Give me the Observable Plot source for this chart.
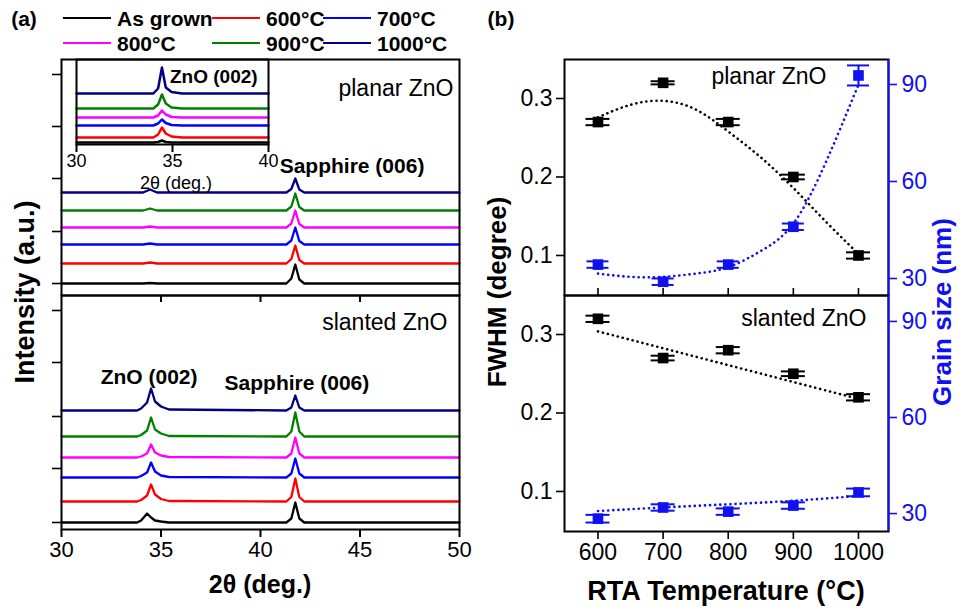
<!DOCTYPE html>
<html><head><meta charset="utf-8">
<script src="https://cdn.jsdelivr.net/npm/d3@7"></script>
<script src="https://cdn.jsdelivr.net/npm/@observablehq/plot@0.6"></script>
<style>
body{margin:0;background:#fff;}
#root{position:relative;width:972px;height:611px;overflow:hidden;font-family:"Liberation Sans",Arial,sans-serif;background:#fff;}
#root svg{position:absolute;left:0;top:0;}
.t{position:absolute;white-space:nowrap;font-weight:bold;color:#000;line-height:1;}
.lg{position:absolute;height:0;border-top:2.5px solid #000;}
</style></head><body><div id="root"></div>
<script>
// ---------- series ----------
const series = ["As grown", "600°C", "700°C", "800°C", "900°C", "1000°C"];
const seriesColors = ["#000000", "#ff0000", "#0000ff", "#ff00ff", "#008000", "#000080"];

// ---------- (a) planar ZnO, 2θ scan (intensity in a.u., stacked) ----------
const planarTheta = [30, 34.1, 34.45, 34.8, 41.3, 41.55, 41.75, 41.95, 42.2, 50];
const planarAsGrown = [12, 12, 12.5, 12, 12, 17, 31, 16, 12, 12];
const planar600 = [32, 32, 33, 32, 32, 36.5, 50, 35.5, 32, 32];
const planar700 = [51, 51, 52, 51, 51, 55, 68, 54.5, 51, 51];
const planar800 = [68, 68, 69, 68, 68, 72, 85, 71.5, 68, 68];
const planar900 = [85, 85, 87, 85, 85, 89, 102, 88.5, 85, 85];
const planar1000 = [103, 103, 106, 103, 103, 106.5, 117, 106, 103, 103];
const planarTicks = [12, 64, 117, 169, 221];

// inset: planar ZnO, 30–40°
const insetTheta = [30, 34.0, 34.25, 34.45, 34.65, 34.95, 35.5, 40];
const insetAsGrown = [2, 2, 2.5, 4, 2.5, 2, 2, 2];
const inset600 = [7, 7, 10, 17, 11, 8, 7, 7];
const inset700 = [19, 19, 21, 25, 21.5, 19.5, 19, 19];
const inset800 = [27, 27, 29, 34, 30, 27.5, 27, 27];
const inset900 = [36, 36, 40, 50, 41, 37, 36, 36];
const inset1000 = [51, 51, 56, 77, 57, 52.5, 51, 51];
const insetTicks = [30, 35, 40];

// ---------- (a) slanted ZnO ----------
const slantedTheta = [30, 33.8, 34.0, 34.3, 34.5, 34.7, 35.0, 35.4, 41.3, 41.55, 41.75, 41.95, 42.2, 50];
const slantedAsGrown = [7, 7, 9, 16, 12, 9, 8, 7, 7, 11, 27, 11, 7, 7];
const slanted600 = [28, 28, 29.5, 34, 45, 35, 30.5, 28.5, 28, 32.5, 51, 32.5, 28, 28];
const slanted700 = [52, 52, 53.5, 57, 67, 58, 54, 52.5, 52, 56, 71, 56, 52, 52];
const slanted800 = [72, 72, 73, 76, 85, 77, 74, 72.5, 72, 76, 92, 76, 72, 72];
const slanted900 = [93, 93, 94.5, 99, 112, 100, 96, 93.5, 93, 98, 117, 98, 93, 93];
const slanted1000 = [119, 119, 121, 127, 141, 128, 123, 120, 119, 122, 134, 122, 119, 119];
const slantedTicks = [7, 61, 113, 167, 219];
const thetaTicks = [30, 35, 40, 45, 50];

// ---------- (b) FWHM and grain size vs RTA temperature ----------
const temps = [600, 700, 800, 900, 1000];
const fwhmPlanar = [0.27, 0.32, 0.27, 0.20, 0.10];
const fwhmPlanarErr = [0.004, 0.002, 0.004, 0.003, 0.004];
const grainPlanar = [34.3, 29, 34.3, 46, 92.8];
const grainPlanarErr = [1, 1, 1, 1, 3.1];
const fwhmSlanted = [0.32, 0.27, 0.28, 0.25, 0.22];
const fwhmSlantedErr = [0.004, 0.003, 0.004, 0.003, 0.004];
const grainSlanted = [28.4, 31.9, 30.6, 32.5, 36.6];
const grainSlantedErr = [1.2, 1, 1, 1, 1.2];
// dotted fit curves
const fitTemps = [600, 650, 700, 750, 800, 850, 900, 950, 1000];
const fwhmPlanarFit = [0.276, 0.292, 0.297, 0.286, 0.258, 0.225, 0.186, 0.143, 0.102];
const grainPlanarFit = [31.5, 30.5, 30.5, 31.5, 33.5, 38.5, 47, 66, 90];
const fitTempsS = [600, 1000];
const fwhmSlantedFit = [0.304, 0.218];
const grainSlantedFitT = [600, 700, 800, 900, 1000];
const grainSlantedFit = [30.8, 31.9, 32.9, 34, 35.5];
const fwhmTicks = [0.1, 0.2, 0.3];
const grainTicks = [30, 60, 90];

// ---------- helpers ----------
const root = document.getElementById("root");
const FONT = "'Liberation Sans', Arial, sans-serif";
function addPlot(o) {
  const el = Plot.plot({
    width: 972, height: 611, ...o,
    style: {background: "transparent", fontFamily: FONT, fontSize: "22px", overflow: "visible", position: "absolute", left: "0px", top: "0px"}
  });
  root.appendChild(el);
}
function addText(txt, x, y, size, opts = {}) {
  const d = document.createElement("div");
  d.className = "t";
  d.textContent = txt;
  d.style.fontSize = size + "px";
  d.style.left = x + "px";
  d.style.top = y + "px";
  d.style.transform = "translate(-50%,-50%)" + (opts.rot ? " rotate(" + opts.rot + "deg)" : "");
  if (opts.color) d.style.color = opts.color;
  if (opts.weight) d.style.fontWeight = opts.weight;
  root.appendChild(d);
}
const traceLines = (theta, sets, sw) => sets.map((vals, k) =>
  Plot.line(theta, {x: d => d, y: (d, i) => vals[i], stroke: seriesColors[k], strokeWidth: sw}));
const noText = () => "";
const plain = d => String(d);

// ---------- (a) upper: planar ----------
addPlot({
  marginTop: 59, marginBottom: 316, marginLeft: 61, marginRight: 513,
  x: {domain: [30, 50]}, y: {domain: [0, 236]},
  marks: [
    ...traceLines(planarTheta, [planarAsGrown, planar600, planar700, planar800, planar900, planar1000], 2.3),
    Plot.axisY({ticks: planarTicks, tickSize: 9, tickFormat: noText, label: null, strokeWidth: 1.6}),
    Plot.axisX({ticks: [35, 40, 45], tickSize: 7, tickFormat: noText, label: null, strokeWidth: 2}),
    Plot.frame({strokeWidth: 2}),
    Plot.text(["Sapphire (006)"], {x: 44.6, y: 129, text: d => d, fontSize: 21, fontWeight: "bold", lineAnchor: "middle"}),
    Plot.text(["planar ZnO"], {frameAnchor: "top-right", dx: -6, dy: 29, text: d => d, fontSize: 23, textAnchor: "end", lineAnchor: "middle"})
  ]
});

// ---------- (a) inset ----------
addPlot({
  marginTop: 59, marginBottom: 467, marginLeft: 76, marginRight: 704,
  x: {domain: [30, 40]}, y: {domain: [0, 85], axis: null},
  marks: [
    ...traceLines(insetTheta, [insetAsGrown, inset600, inset700, inset800, inset900, inset1000], 2.5),
    Plot.axisX({ticks: insetTicks, tickSize: 8, tickPadding: 2, label: null, fontSize: 18, strokeWidth: 2}),
    Plot.frame({strokeWidth: 2}),
    Plot.text(["ZnO (002)"], {x: 37.15, y: 68, text: d => d, fontSize: 19, fontWeight: "bold", lineAnchor: "middle"})
  ]
});

// ---------- (a) lower: slanted ----------
addPlot({
  marginTop: 295, marginBottom: 82, marginLeft: 61, marginRight: 513,
  x: {domain: [30, 50]}, y: {domain: [0, 234]},
  marks: [
    ...traceLines(slantedTheta, [slantedAsGrown, slanted600, slanted700, slanted800, slanted900, slanted1000], 2.3),
    Plot.axisY({ticks: slantedTicks, tickSize: 9, tickFormat: noText, label: null, strokeWidth: 1.6}),
    Plot.axisX({ticks: thetaTicks, tickSize: 8, tickPadding: 4, label: null, fontSize: 22, strokeWidth: 2}),
    Plot.frame({strokeWidth: 2}),
    Plot.text(["ZnO (002)"], {x: 34.4, y: 152, text: d => d, fontSize: 21, fontWeight: "bold", lineAnchor: "middle"}),
    Plot.text(["Sapphire (006)"], {x: 41.83, y: 146, text: d => d, fontSize: 21, fontWeight: "bold", lineAnchor: "middle"}),
    Plot.text(["slanted ZnO"], {frameAnchor: "top-right", dx: -12, dy: 27, text: d => d, fontSize: 23, textAnchor: "end", lineAnchor: "middle"})
  ]
});

// ---------- (b) ----------
const xDomB = [548.6, 1046.1];
const pts = (vals, errs) => temps.map((t, i) => ({t, v: vals[i], e: errs[i]}));
const fitPts = (ts, vals) => ts.map((t, i) => ({t, v: vals[i]}));
const DOT = {strokeDasharray: "0.1,5", strokeLinecap: "round", strokeWidth: 2.6, curve: "natural"};
function errMarks(data, color, cap) {
  return [
    Plot.ruleX(data, {x: "t", y1: d => d.v - d.e, y2: d => d.v + d.e, stroke: color, strokeWidth: 2}),
    Plot.ruleY(data, {x1: "t", x2: "t", y: d => d.v + d.e, insetLeft: -cap, insetRight: -cap, stroke: color, strokeWidth: 2}),
    Plot.ruleY(data, {x1: "t", x2: "t", y: d => d.v - d.e, insetLeft: -cap, insetRight: -cap, stroke: color, strokeWidth: 2}),
    Plot.dot(data, {x: "t", y: "v", symbol: "square", r: 6, fill: color, stroke: null})
  ];
}
const BLUE = "#1010f0";

// upper FWHM (planar)
addPlot({
  marginTop: 59, marginBottom: 316, marginLeft: 564, marginRight: 84,
  x: {domain: xDomB, axis: null}, y: {domain: [0.049, 0.3497]},
  marks: [
    Plot.line(fitPts(fitTemps, fwhmPlanarFit), {x: "t", y: "v", stroke: "#000", ...DOT}),
    ...errMarks(pts(fwhmPlanar, fwhmPlanarErr), "#000", 12),
    Plot.axisY({ticks: fwhmTicks, tickSize: 8, tickPadding: 4, tickFormat: d3.format(".1f"), label: null, fontSize: 23, strokeWidth: 1.6}),
    Plot.frame({strokeWidth: 2}),
    Plot.text(["planar ZnO"], {frameAnchor: "top-right", dx: -62, dy: 17, text: d => d, fontSize: 23, textAnchor: "end", lineAnchor: "middle"})
  ]
});
// upper grain (planar)
addPlot({
  marginTop: 59, marginBottom: 316, marginLeft: 564, marginRight: 84,
  x: {domain: xDomB, axis: null}, y: {domain: [24.74, 97.73]},
  marks: [
    Plot.line(fitPts(fitTemps, grainPlanarFit), {x: "t", y: "v", stroke: BLUE, ...DOT}),
    ...errMarks(pts(grainPlanar, grainPlanarErr), BLUE, 11),
    Plot.ruleX([xDomB[1]], {stroke: BLUE, strokeWidth: 2}),
    Plot.axisY({anchor: "right", ticks: grainTicks, tickSize: 8, tickPadding: 5, label: null, fontSize: 23, color: BLUE, strokeWidth: 1.6})
  ]
});
// lower FWHM (slanted)
addPlot({
  marginTop: 295, marginBottom: 80, marginLeft: 564, marginRight: 84,
  x: {domain: xDomB}, y: {domain: [0.049, 0.3497]},
  marks: [
    Plot.line(fitPts(fitTempsS, fwhmSlantedFit), {x: "t", y: "v", stroke: "#000", ...DOT, curve: "linear"}),
    ...errMarks(pts(fwhmSlanted, fwhmSlantedErr), "#000", 12),
    Plot.axisY({ticks: fwhmTicks, tickSize: 8, tickPadding: 4, tickFormat: d3.format(".1f"), label: null, fontSize: 23, strokeWidth: 1.6}),
    Plot.axisX({ticks: temps, tickSize: 8, tickPadding: 4, tickFormat: plain, label: null, fontSize: 23, strokeWidth: 1.6}),
    Plot.axisX({anchor: "top", ticks: temps, tickSize: 8, tickFormat: noText, label: null, strokeWidth: 1.6}),
    Plot.frame({strokeWidth: 2}),
    Plot.text(["slanted ZnO"], {frameAnchor: "top-right", dx: -22, dy: 23, text: d => d, fontSize: 23, textAnchor: "end", lineAnchor: "middle"})
  ]
});
// lower grain (slanted)
addPlot({
  marginTop: 295, marginBottom: 80, marginLeft: 564, marginRight: 84,
  x: {domain: xDomB, axis: null}, y: {domain: [24.4, 98.1]},
  marks: [
    Plot.line(fitPts(grainSlantedFitT, grainSlantedFit), {x: "t", y: "v", stroke: BLUE, ...DOT}),
    ...errMarks(pts(grainSlanted, grainSlantedErr), BLUE, 12),
    Plot.ruleX([xDomB[1]], {stroke: BLUE, strokeWidth: 2}),
    Plot.axisY({anchor: "right", ticks: grainTicks, tickSize: 8, tickPadding: 5, label: null, fontSize: 23, color: BLUE, strokeWidth: 1.6})
  ]
});

// ---------- titles, axis labels, legend ----------
addText("(a)", 24, 18, 21);
addText("(b)", 501, 18, 21);
addText("Intensity (a.u.)", 25, 292, 27, {rot: -90});
addText("2θ (deg.)", 260, 584, 25);
addText("2θ (deg.)", 176, 183, 18, {weight: "normal"});
addText("FWHM (degree)", 497, 292, 26, {rot: -90});
addText("Grain size (nm)", 942, 312, 26, {rot: -90, color: BLUE});
addText("RTA Temperature (°C)", 726, 591, 27);

const legendLineX = [63, 212, 323];
const legendRowY = [18, 43];
series.forEach((s, k) => {
  const col = k % 3, row = Math.floor(k / 3);
  const ln = document.createElement("div");
  ln.className = "lg";
  ln.style.left = legendLineX[col] + "px";
  ln.style.width = "48px";
  ln.style.top = (legendRowY[row] - 1) + "px";
  ln.style.borderTopColor = seriesColors[k];
  root.appendChild(ln);
  const tx = document.createElement("div");
  tx.className = "t";
  tx.textContent = s;
  tx.style.fontSize = "21px";
  tx.style.left = (legendLineX[col] + 54) + "px";
  tx.style.top = legendRowY[row] + "px";
  tx.style.transform = "translateY(-50%)";
  root.appendChild(tx);
});
</script></body></html>
